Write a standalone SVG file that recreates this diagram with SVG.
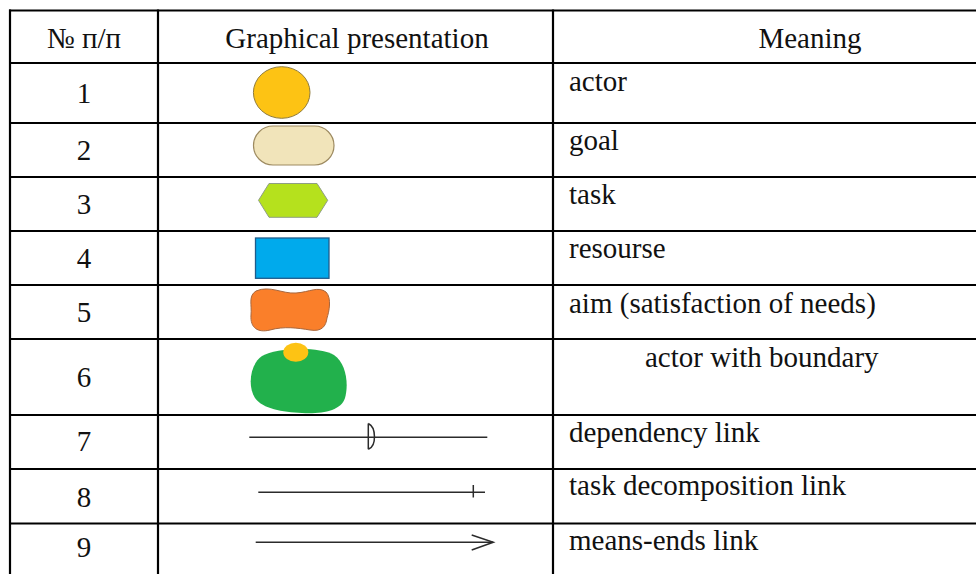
<svg xmlns="http://www.w3.org/2000/svg" width="976" height="574" viewBox="0 0 976 574">
  <style>
    .grid line { stroke: #000; stroke-width: 2.2; }
    text { font-family: "Liberation Serif", "Times New Roman", serif; font-size: 29px; fill: #111; }
    .num { text-anchor: middle; }
    .head { text-anchor: middle; }
    .link { stroke: #2b2b2b; stroke-width: 1.5; fill: none; }
  </style>
  <rect width="976" height="574" fill="#fff"/>

  <!-- table grid -->
  <g class="grid">
    <line x1="9" y1="10.5" x2="976" y2="10.5"/>
    <line x1="9" y1="63" x2="976" y2="63"/>
    <line x1="9" y1="123" x2="976" y2="123"/>
    <line x1="9" y1="177" x2="976" y2="177"/>
    <line x1="9" y1="231" x2="976" y2="231"/>
    <line x1="9" y1="285" x2="976" y2="285"/>
    <line x1="9" y1="339" x2="976" y2="339"/>
    <line x1="9" y1="415" x2="976" y2="415"/>
    <line x1="9" y1="469" x2="976" y2="469"/>
    <line x1="9" y1="523.5" x2="976" y2="523.5"/>
    <line x1="10" y1="9.5" x2="10" y2="574"/>
    <line x1="158" y1="9.5" x2="158" y2="574"/>
    <line x1="553" y1="9.5" x2="553" y2="574"/>
  </g>

  <!-- header -->
  <g id="header">
    <text class="head" x="84" y="48">№ п/п</text>
    <text class="head" x="357" y="48">Graphical presentation</text>
    <text class="head" x="810" y="48">Meaning</text>
  </g>

  <g id="row-1">
    <text class="num" x="84" y="103">1</text>
    <ellipse cx="281.7" cy="92.5" rx="28.3" ry="25.8" fill="#FDC314" stroke="#8F7B3C" stroke-width="1"/>
    <text x="569" y="91">actor</text>
  </g>

  <g id="row-2">
    <text class="num" x="84" y="160">2</text>
    <rect x="253.5" y="126" width="80.5" height="39" rx="19.5" fill="#F1E4BA" stroke="#9D8A60" stroke-width="1.2"/>
    <text x="569" y="150">goal</text>
  </g>

  <g id="row-3">
    <text class="num" x="84" y="214">3</text>
    <polygon points="258.5,200.3 269,183.5 317,183.5 327.7,200.3 317,217.3 269,217.3" fill="#B5E11D" stroke="#8F9E84" stroke-width="1"/>
    <text x="569" y="204">task</text>
  </g>

  <g id="row-4">
    <text class="num" x="84" y="268">4</text>
    <rect x="255.5" y="238" width="73.5" height="40.3" fill="#00AAEC" stroke="#1E5C8C" stroke-width="1.3"/>
    <text x="569" y="258">resourse</text>
  </g>

  <g id="row-5">
    <text class="num" x="84" y="322">5</text>
    <path d="M 256,291 C 270,285 282,294 296,293 C 310,292 318,286 326,292 C 332,298 329,312 327,318 C 326,326 322,332 310,330 C 298,328 284,326 270,330 C 258,333 250,328 251,315 C 252,305 248,296 256,291 Z" fill="#FA7F2A" stroke="#A8673E" stroke-width="1"/>
    <text x="569" y="313">aim (satisfaction of needs)</text>
  </g>

  <g id="row-6">
    <text class="num" x="84" y="387">6</text>
    <path d="M 262,356 C 276,348 318,346 334,355 C 346,363 349,384 345,398 C 341,411 322,414 302,413 C 282,412 263,409 255,398 C 248,388 249,365 262,356 Z" fill="#22B14C"/>
    <ellipse cx="295.8" cy="352.3" rx="12.5" ry="9.5" fill="#FDC314"/>
    <text x="645" y="367">actor with boundary</text>
  </g>

  <g id="row-7">
    <text class="num" x="84" y="451">7</text>
    <text x="569" y="442">dependency link</text>
  </g>

  <g id="row-8">
    <text class="num" x="84" y="506.5">8</text>
    <text x="569" y="495">task decomposition link</text>
  </g>

  <g id="row-9">
    <text class="num" x="84" y="557">9</text>
    <text x="569" y="550">means-ends link</text>
  </g>

  <!-- link notations -->
  <g id="connectors">
    <!-- dependency link -->
    <line class="link" x1="249.3" y1="437.3" x2="487.3" y2="437.3"/>
    <path class="link" d="M 368.3,423.5 L 368.3,449.3 M 368.3,423.5 C 376,427 377,446 368.3,449.3" stroke-width="1.2" fill="#fff"/>
    <!-- task decomposition link -->
    <line class="link" x1="258.3" y1="492.3" x2="485" y2="492.3"/>
    <line class="link" x1="473.3" y1="485" x2="473.3" y2="497.5"/>
    <!-- means-ends link -->
    <line class="link" x1="255.7" y1="542.3" x2="493" y2="542.3"/>
    <polyline class="link" points="471.7,535 493.3,542.3 471.7,550"/>
  </g>
</svg>
